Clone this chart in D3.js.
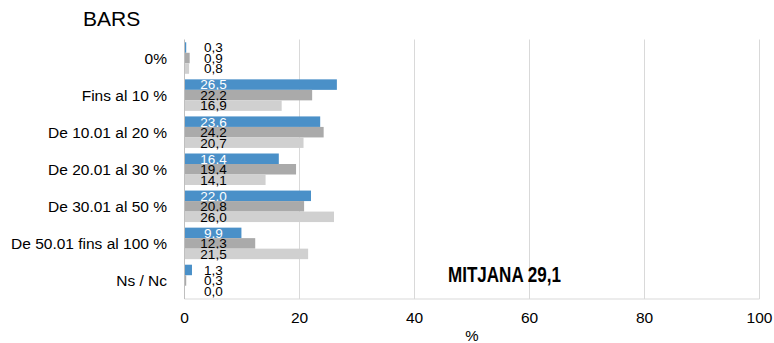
<!DOCTYPE html>
<html><head><meta charset="utf-8">
<script src="https://cdn.jsdelivr.net/npm/d3@7"></script>
<style>body{margin:0;background:#fff}svg{display:block}</style>
</head><body>
<svg id="c" width="774" height="343"></svg>
<script>
const categories = ["0%", "Fins al 10 %", "De 10.01 al 20 %", "De 20.01 al 30 %", "De 30.01 al 50 %", "De 50.01 fins al 100 %", "Ns / Nc"];
const seriesA = [0.3, 26.5, 23.6, 16.4, 22.0, 9.9, 1.3];
const seriesB = [0.9, 22.2, 24.2, 19.4, 20.8, 12.3, 0.3];
const seriesC = [0.8, 16.9, 20.7, 14.1, 26.0, 21.5, 0.0];
const xTicks = [0, 20, 40, 60, 80, 100];
const title = "BARS";
const note = "MITJANA 29,1";
const xTitle = "%";

const series = [
  {values: seriesA, color: "#4a90c8", labelIn: "#ffffff"},
  {values: seriesB, color: "#aaaaaa", labelIn: "#000000"},
  {values: seriesC, color: "#d0d0d0", labelIn: "#000000"}
];

const svg = d3.select("#c");
const font = "'Liberation Sans', Arial, sans-serif";
const x = d3.scaleLinear().domain([0, 100]).range([184.5, 759.5]);
const y = d3.scaleBand().domain(categories).range([39.5, 299]).paddingInner(0.15).paddingOuter(0.075);
const ys = d3.scaleBand().domain([0,1,2]).range([0, y.bandwidth()]);

svg.append("g").selectAll("line").data(xTicks.slice(1)).join("line")
  .attr("x1", d => x(d)).attr("x2", d => x(d))
  .attr("y1", 39.5).attr("y2", 299)
  .attr("stroke", "#d9d9d9").attr("stroke-width", 1);
svg.append("line").attr("x1", x(0)).attr("x2", x(100)).attr("y1", 299).attr("y2", 299)
  .attr("stroke", "#d9d9d9");

series.forEach((s, si) => {
  const g = svg.append("g");
  g.selectAll("rect").data(categories).join("rect")
    .attr("x", x(0))
    .attr("y", c => y(c) + ys(si))
    .attr("width", (c, i) => x(s.values[i]) - x(0))
    .attr("height", ys.bandwidth())
    .attr("fill", s.color);
  g.selectAll("text").data(categories).join("text")
    .attr("x", 213.5)
    .attr("y", c => y(c) + ys(si) + ys.bandwidth() / 2)
    .attr("dy", "0.36em")
    .attr("text-anchor", "middle")
    .attr("font-family", font).attr("font-size", 13.5)
    .attr("fill", (c, i) => x(s.values[i]) > 226 ? s.labelIn : "#000")
    .text((c, i) => d3.format(".1f")(s.values[i]).replace(".", ","));
});

svg.append("line").attr("x1", x(0)).attr("x2", x(0)).attr("y1", 39.5).attr("y2", 299)
  .attr("stroke", "#bfbfbf");

svg.append("g").selectAll("text").data(categories).join("text")
  .attr("x", 167).attr("y", c => y(c) + y.bandwidth() / 2)
  .attr("dy", "0.36em").attr("text-anchor", "end")
  .attr("font-family", font).attr("font-size", 15.5).attr("fill", "#000")
  .text(d => d);

svg.append("g").selectAll("text").data(xTicks).join("text")
  .attr("x", d => x(d)).attr("y", 317.5).attr("dy", "0.36em")
  .attr("text-anchor", "middle")
  .attr("font-family", font).attr("font-size", 15.5).attr("fill", "#000")
  .text(d => d);

svg.append("text").attr("x", 472).attr("y", 341)
  .attr("text-anchor", "middle").attr("font-family", font).attr("font-size", 15)
  .text(xTitle);

svg.append("text").attr("x", 83).attr("y", 26)
  .attr("font-family", font).attr("font-size", 21).text(title);

svg.append("text").attr("x", 448).attr("y", 282)
  .attr("font-family", font)
  .attr("font-weight", "bold").attr("font-size", 22)
  .attr("textLength", 113).attr("lengthAdjust", "spacingAndGlyphs")
  .text(note);
</script>
</body></html>
